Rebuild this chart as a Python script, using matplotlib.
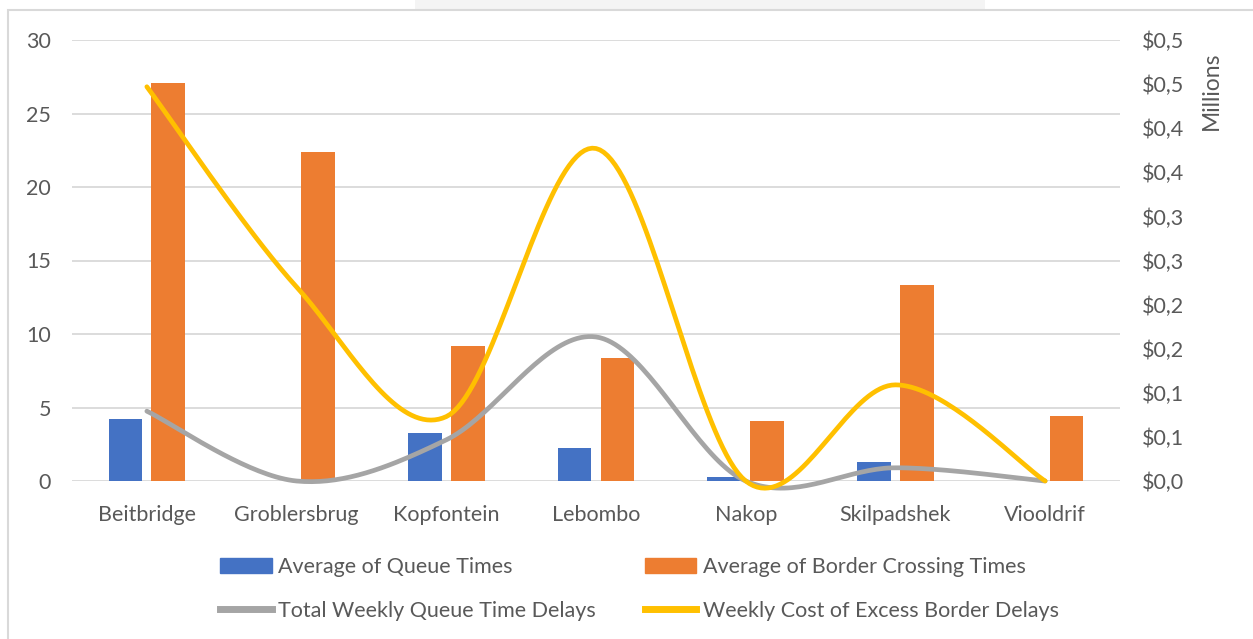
import numpy as np
import matplotlib.pyplot as plt
from matplotlib.patches import Patch, Rectangle
from matplotlib.lines import Line2D
from matplotlib.ticker import FixedLocator, FuncFormatter

plt.rcParams['font.family'] = ['Lato', 'DejaVu Sans']

crossings = ['Beitbridge', 'Groblersbrug', 'Kopfontein', 'Lebombo', 'Nakop', 'Skilpadshek', 'Viooldrif']
queue_avg = [4.2, 0.0, 3.25, 2.25, 0.28, 1.28, 0.0]
crossing_avg = [27.05, 22.35, 9.2, 8.35, 4.08, 13.35, 4.42]
weekly_queue_delay = [4.75, 0.0, 2.8, 9.8, 0.0, 0.9, 0.0]
weekly_cost_m = [0.447, 0.22, 0.073, 0.377, 0.0, 0.109, 0.0]

BLUE = '#4472C4'
ORANGE = '#ED7D31'
GREY = '#A5A5A5'
GOLD = '#FFC000'
TXT = '#595959'
FS = 15.5


def smooth(y, n=40):
    # bezier smoothing through every point, tangents from neighbours (catmull-rom)
    x = np.arange(len(y), dtype=float)
    y = np.asarray(y, dtype=float)
    px = np.concatenate([[x[0]], x, [x[-1]]])
    py = np.concatenate([[y[0]], y, [y[-1]]])
    xs, ys = [], []
    t = np.linspace(0, 1, n)
    for i in range(1, len(x)):
        for p, out in ((px, xs), (py, ys)):
            p0, p1, p2, p3 = p[i - 1], p[i], p[i + 1], p[i + 2]
            c1 = p1 + (p2 - p0) / 6
            c2 = p2 - (p3 - p1) / 6
            out.extend((1 - t) ** 3 * p1 + 3 * (1 - t) ** 2 * t * c1 + 3 * (1 - t) * t ** 2 * c2 + t ** 3 * p2)
    return np.array(xs), np.array(ys)


fig = plt.figure(figsize=(12.53, 6.39), dpi=100)
fig.patches.append(Rectangle((415 / 1253, 1 - 10 / 639), 570 / 1253, 10 / 639, transform=fig.transFigure,
                             facecolor='#f4f4f4', edgecolor='none'))
fig.patches.append(Rectangle((8 / 1253, -0.01), 1.0, 1 - 10 / 639 + 0.01, transform=fig.transFigure,
                             facecolor='none', edgecolor='#d9d9d9', linewidth=1.5))

ax = fig.add_axes([72 / 1253, 1 - 481 / 639, (1120 - 72) / 1253, (481 - 40) / 639])
x = np.arange(len(crossings))
w = 0.225
ax.bar(x - 0.143, queue_avg, w, color=BLUE, zorder=2)
ax.bar(x + 0.143, crossing_avg, w, color=ORANGE, zorder=2)
gx, gy = smooth(weekly_queue_delay)
ax.plot(gx, gy, color=GREY, lw=3.4, solid_capstyle='round', zorder=3, clip_on=False)

ax.set_xlim(-0.5, len(crossings) - 0.5)
ax.set_ylim(0, 30)
ax.set_yticks(range(0, 31, 5))
ax.set_xticks(x)
ax.set_xticklabels(crossings)
ax.grid(axis='y', color='#d9d9d9', lw=1.3, zorder=0)
ax.set_axisbelow(True)
for s in ax.spines.values():
    s.set_visible(False)
ax.tick_params(length=0, labelsize=FS, labelcolor=TXT)
ax.tick_params(axis='y', pad=15)
ax.tick_params(axis='x', pad=17)

ax2 = ax.twinx()
cx, cy = smooth(weekly_cost_m)
ax2.plot(cx, cy, color=GOLD, lw=3.4, solid_capstyle='round', clip_on=False)
ax2.set_ylim(0, 0.5)
ax2.yaxis.set_major_locator(FixedLocator(np.linspace(0, 0.5, 11)))
ax2.yaxis.set_major_formatter(FuncFormatter(lambda v, _: ('$%.1f' % (v + 1e-9)).replace('.', ',')))
for s in ax2.spines.values():
    s.set_visible(False)
ax2.tick_params(length=0, labelsize=FS, labelcolor=TXT, pad=16)
fig.text(1211 / 1253, 1 - 91 / 639, 'Millions', rotation=90, ha='center', va='center', fontsize=FS + 1,
         color=TXT)

handles = [Patch(color=BLUE), Line2D([], [], color=GREY, lw=5),
           Patch(color=ORANGE), Line2D([], [], color=GOLD, lw=5)]
labels = ['Average of Queue Times', 'Total Weekly Queue Time Delays',
          'Average of Border Crossing Times', 'Weekly Cost of Excess Border Delays']
fig.legend(handles, labels, ncol=2, loc='center left', bbox_to_anchor=(201 / 1253, 1 - 589 / 639),
           frameon=False, fontsize=FS, labelcolor=TXT, handlelength=2.4, handleheight=0.65,
           handletextpad=0.3, columnspacing=2.25, labelspacing=1.1)

fig.savefig('out.png', dpi=100)
